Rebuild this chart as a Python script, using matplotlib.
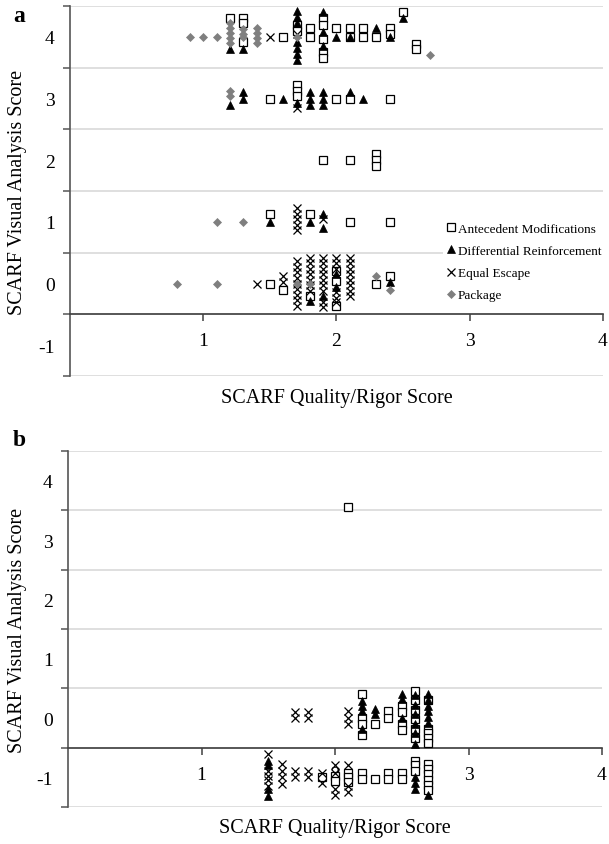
"""Scatter of SCARF visual analysis score vs quality/rigor score (panels a and b)."""

import matplotlib

matplotlib.use("Agg")
import matplotlib.pyplot as plt
from matplotlib.lines import Line2D

plt.rcParams["font.family"] = ["Liberation Serif", "DejaVu Serif"]

SERIES = ["Antecedent Modifications", "Differential Reinforcement", "Equal Escape", "Package"]
Y_TICK_LABELS = ["-1", "0", "1", "2", "3", "4"]
X_TICK_LABELS = ["1", "2", "3", "4"]

# ---- panel a -------------------------------------------------------------
a_ante_x = [1.2, 1.3, 1.3, 1.3, 1.6, 1.7, 1.7, 1.8, 1.8, 1.9, 1.9, 1.9, 1.9, 1.9,
            2.0, 2.1, 2.1, 2.2, 2.2, 2.3, 2.4, 2.4, 2.5, 2.6, 2.6,
            1.5, 1.7, 1.7, 1.7, 2.0, 2.1, 2.4,
            1.9, 2.1, 2.3, 2.3, 2.3,
            1.5, 1.8, 2.1, 2.4,
            1.5, 1.6, 1.8, 2.0, 2.0, 2.0, 2.3, 2.4]
a_ante_y = [4.3, 4.3, 4.22, 3.92, 4.0, 4.2, 4.1, 4.15, 4.0, 4.3, 4.2, 3.97, 3.76, 3.66,
            4.14, 4.14, 4.0, 4.14, 4.0, 4.0, 4.14, 4.05, 4.41, 3.88, 3.8,
            3.0, 3.22, 3.12, 3.04, 3.0, 3.0, 3.0,
            2.0, 2.0, 2.1, 2.0, 1.9,
            1.12, 1.12, 1.0, 1.0,
            0.0, -0.1, -0.2, 0.2, 0.04, -0.37, 0.0, 0.12]

a_diff_x = [1.2, 1.3, 1.7, 1.7, 1.7, 1.7, 1.7, 1.7, 1.7, 1.9, 1.9, 1.9,
            2.0, 2.1, 2.3, 2.4, 2.5,
            1.2, 1.3, 1.3, 1.6, 1.7, 1.8, 1.8, 1.8, 1.9, 1.9, 1.9, 2.1, 2.2,
            1.5, 1.8, 1.9, 1.9,
            1.8, 1.9, 2.0, 2.0, 2.4]
a_diff_y = [3.8, 3.81, 4.42, 4.32, 4.22, 3.92, 3.82, 3.72, 3.62, 4.41, 4.08, 3.85,
            4.0, 4.0, 4.14, 4.0, 4.3,
            2.9, 3.1, 3.0, 3.0, 2.92, 3.1, 3.0, 2.9, 3.1, 3.0, 2.9, 3.1, 3.0,
            1.0, 1.0, 1.12, 0.9,
            -0.29, -0.2, 0.15, -0.05, 0.02]

a_escape_x = [1.5, 1.7, 1.7,
              1.7, 1.7, 1.7, 1.7, 1.7, 1.9,
              1.4, 1.6, 1.6,
              1.7, 1.7, 1.7, 1.7, 1.7, 1.7, 1.7, 1.7, 1.7,
              1.8, 1.8, 1.8, 1.8, 1.8, 1.8, 1.8,
              1.9, 1.9, 1.9, 1.9, 1.9, 1.9, 1.9, 1.9, 1.9,
              2.0, 2.0, 2.0, 2.0, 2.0, 2.0,
              2.1, 2.1, 2.1, 2.1, 2.1, 2.1, 2.1, 2.1]
a_escape_y = [4.0, 4.05, 2.85,
              1.22, 1.13, 1.04, 0.95, 0.87, 1.04,
              0.0, 0.12, 0.02,
              0.36, 0.27, 0.18, 0.09, 0.0, -0.09, -0.18, -0.27, -0.36,
              0.42, 0.33, 0.24, 0.15, 0.06, -0.03, -0.12,
              0.42, 0.33, 0.24, 0.15, 0.06, -0.03, -0.12, -0.3, -0.38,
              0.42, 0.33, 0.24, -0.14, -0.23, -0.3,
              0.42, 0.33, 0.24, 0.15, 0.06, -0.03, -0.12, -0.2]

a_package_x = [0.9, 1.0, 1.1, 1.2, 1.2, 1.2, 1.2, 1.2, 1.3, 1.3, 1.3,
               1.4, 1.4, 1.4, 1.4, 1.7, 2.7,
               1.2, 1.2,
               1.1, 1.3,
               0.8, 1.1, 1.7, 1.8, 2.3, 2.4]
a_package_y = [4.0, 4.0, 4.0, 4.22, 4.14, 4.06, 3.98, 3.9, 4.12, 4.05, 3.99,
               4.14, 4.06, 3.98, 3.9, 4.0, 3.7,
               3.12, 3.04,
               1.0, 1.0,
               0.0, 0.0, 0.0, 0.0, 0.12, -0.1]

# ---- panel b -------------------------------------------------------------
b_ante_x = [2.1,
            2.2, 2.2, 2.2, 2.2, 2.3, 2.4, 2.4, 2.5, 2.5, 2.5, 2.5,
            2.6, 2.6, 2.6, 2.6, 2.6, 2.6, 2.7, 2.7, 2.7, 2.7, 2.7,
            1.9, 2.0, 2.0, 2.1, 2.1, 2.1, 2.2, 2.2, 2.3, 2.4, 2.4, 2.5, 2.5,
            2.6, 2.6, 2.6, 2.7, 2.7, 2.7, 2.7, 2.7, 2.7]
b_ante_y = [3.55,
            0.41, 0.0, -0.1, -0.29, -0.1, 0.11, 0.0, 0.2, 0.1, -0.1, -0.2,
            0.46, 0.3, 0.14, -0.02, -0.18, -0.34, 0.31, -0.18, -0.26, -0.34, -0.42,
            -0.99, -0.98, -1.06, -0.92, -1.0, -1.08, -0.93, -1.02, -1.02, -0.93, -1.02, -0.93, -1.02,
            -0.72, -0.8, -0.9, -0.77, -0.86, -0.95, -1.04, -1.13, -1.22]

b_diff_x = [2.2, 2.2, 2.2, 2.2, 2.3, 2.3, 2.5, 2.5, 2.5,
            2.6, 2.6, 2.6, 2.6, 2.6, 2.6,
            2.7, 2.7, 2.7, 2.7, 2.7, 2.7,
            1.5, 1.5, 1.5, 1.5, 2.6, 2.6, 2.6, 2.7]
b_diff_y = [0.29, 0.2, 0.12, -0.18, 0.15, 0.07, 0.41, 0.32, 0.0,
            0.38, 0.22, 0.06, -0.1, -0.26, -0.44,
            0.41, 0.21, 0.11, 0.01, -0.09, 0.31,
            -0.72, -0.8, -1.19, -1.31, -0.99, -1.1, -1.2, -1.3]

b_escape_x = [1.7, 1.7, 1.8, 1.8, 2.1, 2.1, 2.1,
              1.5, 1.5, 1.5, 1.5, 1.5, 1.6, 1.6, 1.6, 1.6,
              1.7, 1.7, 1.8, 1.8, 1.9, 1.9, 2.0, 2.0, 2.0, 2.0, 2.1, 2.1, 2.1]
b_escape_y = [0.1, 0.0, 0.1, 0.0, 0.11, 0.0, -0.1,
              -0.6, -0.89, -0.97, -1.05, -1.14, -0.77, -0.89, -1.0, -1.12,
              -0.9, -1.0, -0.9, -1.0, -0.92, -1.1, -0.8, -0.92, -1.2, -1.3, -0.79, -1.15, -1.25]

STYLES = {
    "Antecedent Modifications": dict(marker="s", ms=6.2, mfc="white", mec="black", mew=0.9),
    "Differential Reinforcement": dict(marker="^", ms=6.2, mfc="black", mec="black", mew=0.5),
    "Equal Escape": dict(marker="x", ms=5.2, mfc="black", mec="black", mew=0.9),
    "Package": dict(marker="D", ms=4.3, mfc="#7f7f7f", mec="#7f7f7f", mew=0.5),
}


def style_axes(ax):
    ax.set_xlim(0, 4)
    ax.set_ylim(-1.5, 4.5)
    for side in ["top", "right"]:
        ax.spines[side].set_visible(False)
    ax.spines["left"].set_color("#555555")
    ax.spines["left"].set_linewidth(1.2)
    ax.spines["bottom"].set_position(("data", -0.5))
    ax.spines["bottom"].set_color("#404040")
    ax.spines["bottom"].set_linewidth(1.2)

    # half-integer gridlines with tick marks, labels sit between them
    grid = [-1.5, -0.5, 0.5, 1.5, 2.5, 3.5, 4.5]
    ax.set_yticks(grid)
    ax.set_yticklabels([])
    for g in grid:
        ax.axhline(g, color="#d9d9d9", lw=1.2, zorder=0)
    ax.set_yticks([-1, 0, 1, 2, 3, 4], minor=True)
    ax.set_yticklabels(Y_TICK_LABELS, minor=True, fontsize=14)
    ax.tick_params(axis="y", which="major", length=5, width=1.1, color="#555555", direction="out")
    ax.tick_params(axis="y", which="minor", length=0, pad=11)

    ax.set_xticks([1, 2, 3, 4])
    ax.set_xticklabels(X_TICK_LABELS, fontsize=14)
    ax.tick_params(axis="x", length=5, width=1.1, color="#404040", direction="out", pad=8)

    ax.text(0.5, -0.057, "SCARF Quality/Rigor Score", transform=ax.transAxes,
            ha="center", va="center", fontsize=14.5)


def draw_series(ax, xs, ys, name):
    ax.plot(xs, ys, ls="none", zorder=3, clip_on=False, **STYLES[name])


fig = plt.figure(figsize=(6.09, 8.45), dpi=100)
ax_a = fig.add_axes([0.115, 0.5538, 0.875, 0.4379])
ax_b = fig.add_axes([0.1117, 0.0438, 0.8768, 0.4212])

draw_series(ax_a, a_ante_x, a_ante_y, SERIES[0])
draw_series(ax_a, a_diff_x, a_diff_y, SERIES[1])
draw_series(ax_a, a_escape_x, a_escape_y, SERIES[2])
draw_series(ax_a, a_package_x, a_package_y, SERIES[3])

draw_series(ax_b, b_ante_x, b_ante_y, SERIES[0])
draw_series(ax_b, b_diff_x, b_diff_y, SERIES[1])
draw_series(ax_b, b_escape_x, b_escape_y, SERIES[2])

style_axes(ax_a)
style_axes(ax_b)

fig.text(19 / 609, 1 - 17 / 845, "a", ha="center", va="center", fontsize=17, fontweight="bold")
fig.text(19 / 609, 1 - 441 / 845, "b", ha="center", va="center", fontsize=17, fontweight="bold")

handles = [Line2D([], [], ls="none", **STYLES[name]) for name in SERIES]
leg = ax_a.legend(handles, SERIES, loc="upper left", bbox_to_anchor=(0.70, 0.425),
                  fontsize=9.5, frameon=True, fancybox=False, framealpha=1,
                  handlelength=0.6, handletextpad=0.2, labelspacing=0.75,
                  borderpad=0.3, borderaxespad=0)
leg.get_frame().set_edgecolor("none")
leg.get_frame().set_facecolor("white")
leg.set_zorder(5)

for ax in (ax_a, ax_b):
    fig.text(18 / 609, (ax.get_position().y0 + ax.get_position().y1) / 2,
             "SCARF Visual Analysis Score", rotation=90, ha="center", va="center",
             fontsize=14.5)

fig.savefig("out.png", dpi=100)
